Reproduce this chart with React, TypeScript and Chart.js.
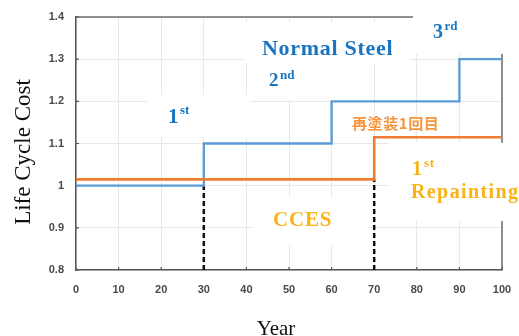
import React, { useEffect, useRef } from "react";
import { Chart, registerables } from "chart.js";

Chart.register(...registerables);

// Life-cycle cost vs. service year for two bridge steels
const steelYears = [0, 30, 60, 90, 100];
const steelCost = [1.0, 1.1, 1.2, 1.3, 1.3];
const ccesYears = [0, 70, 100];
const ccesCost = [1.015, 1.115, 1.115];
// repainting events marked by dashed drops to the axis
const repaintYears = [30, 70];
const repaintLevel = [1.0, 1.015];
const costMin = 0.8;
const costMax = 1.4;
const yearMin = 0;
const yearMax = 100;

const W = 519;
const H = 336;

const BLUE_TEXT = "#1b74c2";
const GOLD_TEXT = "#f9b317";
const SERIF = '"Liberation Serif", "Times New Roman", serif';

// white label backgrounds laid over the grid
const labelBoxes: [number, number, number, number][] = [
  [147, 95, 103, 42],
  [243, 23, 167, 40],
  [250, 62, 119, 38],
  [413, 0, 106, 54],
  [389, 143, 130, 78],
  [252, 197, 115, 49],
];

function ordinal(
  ctx: CanvasRenderingContext2D,
  num: string,
  suf: string,
  x: number,
  base: number,
  size: number,
  supSize: number,
  rise: number,
  color: string
) {
  ctx.fillStyle = color;
  ctx.textAlign = "left";
  ctx.textBaseline = "alphabetic";
  ctx.font = `bold ${size}px ${SERIF}`;
  ctx.fillText(num, x, base);
  const w = ctx.measureText(num).width;
  ctx.font = `bold ${supSize}px ${SERIF}`;
  ctx.fillText(suf, x + w + 1.5, base - rise);
}

const decorations = {
  id: "decorations",
  beforeDatasetsDraw(chart: Chart) {
    const { ctx, chartArea: a } = chart;
    const xs: any = chart.scales.x;
    const ys: any = chart.scales.y;
    ctx.save();
    ctx.strokeStyle = "#6e6e6e";
    ctx.lineWidth = 1.5;
    ctx.beginPath();
    ctx.moveTo(a.left, a.top);
    ctx.lineTo(a.right, a.top);
    ctx.lineTo(a.right, a.bottom);
    ctx.stroke();

    // short inward tick marks on both axes
    ctx.strokeStyle = "#555";
    ctx.lineWidth = 1.2;
    ctx.beginPath();
    xs.ticks.forEach((t: any) => {
      const px = xs.getPixelForValue(t.value);
      ctx.moveTo(px, a.bottom);
      ctx.lineTo(px, a.bottom - 3);
    });
    ys.ticks.forEach((t: any) => {
      const py = ys.getPixelForValue(t.value);
      ctx.moveTo(a.left, py);
      ctx.lineTo(a.left + 3, py);
    });
    ctx.stroke();

    ctx.fillStyle = "#ffffff";
    labelBoxes.forEach(([x, y, w, h]) => ctx.fillRect(x, y, w, h));
    ctx.restore();
  },
  afterDraw(chart: Chart) {
    const { ctx } = chart;
    ctx.save();
    const c = ctx as any;

    // series annotations
    ordinal(ctx, "1", "st", 168, 123, 21, 13, 9, BLUE_TEXT);
    ctx.font = `bold 22px ${SERIF}`;
    c.letterSpacing = "0.7px";
    ctx.fillStyle = BLUE_TEXT;
    ctx.fillText("Normal Steel", 262, 55);
    c.letterSpacing = "0px";
    ordinal(ctx, "2", "nd", 269, 86, 19, 13, 7, BLUE_TEXT);
    ordinal(ctx, "3", "rd", 433, 38, 20, 13, 8, BLUE_TEXT);

    ctx.font = 'bold 15px "Noto Sans CJK JP", sans-serif';
    c.letterSpacing = "0.6px";
    ctx.fillStyle = "#f7963f";
    ctx.textBaseline = "middle";
    ctx.fillText("再塗装1回目", 352, 123);
    ctx.textBaseline = "alphabetic";

    ordinal(ctx, "1", "st", 412, 175, 20, 13, 8, GOLD_TEXT);
    ctx.font = `bold 20px ${SERIF}`;
    c.letterSpacing = "1.4px";
    ctx.fillStyle = GOLD_TEXT;
    ctx.fillText("Repainting", 411, 198);
    ctx.font = `bold 21px ${SERIF}`;
    c.letterSpacing = "0.8px";
    ctx.fillText("CCES", 273, 226);
    c.letterSpacing = "0px";

    // axis titles
    ctx.fillStyle = "#111";
    ctx.font = `21px ${SERIF}`;
    ctx.textAlign = "center";
    ctx.fillText("Year", 276, 335);
    ctx.translate(30, 152);
    ctx.rotate(-Math.PI / 2);
    ctx.font = `23px ${SERIF}`;
    ctx.fillText("Life Cycle Cost", 0, 0);
    ctx.restore();
  },
};

export default function App() {
  const ref = useRef<HTMLCanvasElement>(null);

  useEffect(() => {
    if (!ref.current) return;
    const tickFont = { family: '"Liberation Sans", Arial, sans-serif', size: 11, weight: "bold" };
    const dashed = repaintYears.map((yr, i) => ({
      data: [
        { x: yr, y: costMin },
        { x: yr, y: repaintLevel[i] },
      ],
      borderColor: "#111111",
      borderWidth: 2.5,
      borderDash: [5, 3],
      pointRadius: 0,
      fill: false,
    }));
    const chart = new Chart(ref.current, {
      type: "line",
      data: {
        datasets: [
          {
            label: "CCES",
            data: ccesYears.map((x, i) => ({ x, y: ccesCost[i] })),
            borderColor: "#ed7d31",
            borderWidth: 2.6,
            stepped: true,
            pointRadius: 0,
            fill: false,
          },
          {
            label: "Normal Steel",
            data: steelYears.map((x, i) => ({ x, y: steelCost[i] })),
            borderColor: "#5b9bd5",
            borderWidth: 2.3,
            stepped: true,
            pointRadius: 0,
            fill: false,
          },
          ...dashed,
        ],
      },
      options: {
        responsive: false,
        animation: false,
        events: [],
        layout: { padding: { left: 0, right: 17, top: 17, bottom: 0 } },
        plugins: { legend: { display: false }, tooltip: { enabled: false } },
        scales: {
          x: {
            type: "linear",
            min: yearMin,
            max: yearMax,
            ticks: { stepSize: 10, padding: 13, color: "#4a4a4a", font: tickFont, maxRotation: 0, autoSkip: false },
            grid: { color: "#e8e8e8", lineWidth: 1, drawTicks: false },
            border: { color: "#555", width: 1.5 },
            afterFit(s: any) {
              s.height = 66;
              s.paddingLeft = 0;
              s.paddingRight = 0;
            },
          },
          y: {
            min: costMin,
            max: costMax,
            ticks: {
              stepSize: 0.1,
              padding: 12,
              color: "#4a4a4a",
              font: tickFont,
              callback: (v: any) => String(Number(Number(v).toFixed(1))),
            },
            grid: { color: "#e8e8e8", lineWidth: 1, drawTicks: false },
            border: { color: "#555", width: 1.5 },
            afterFit(s: any) {
              s.width = 76;
              s.paddingTop = 0;
              s.paddingBottom = 0;
            },
          },
        },
      },
      plugins: [decorations],
    } as any);
    return () => chart.destroy();
  }, []);

  return (
    <div style={{ position: "fixed", left: 0, top: 0, width: W, height: H, background: "#fff" }}>
      <canvas ref={ref} width={W} height={H} style={{ width: W, height: H, display: "block" }} />
    </div>
  );
}
